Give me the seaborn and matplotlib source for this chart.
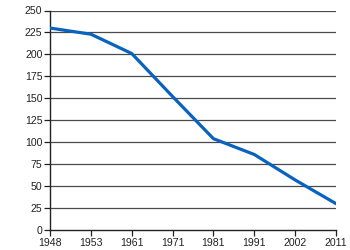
import matplotlib
matplotlib.use("Agg")
import matplotlib.pyplot as plt
import seaborn as sns
import pandas as pd

years = ["1948", "1953", "1961", "1971", "1981", "1991", "2002", "2011"]
values = [230, 223, 201, 152, 104, 86, 57, 30]
y_ticks = [0, 25, 50, 75, 100, 125, 150, 175, 200, 225, 250]

sns.set_style("white")
plt.rcParams['font.family'] = ['Liberation Sans', 'DejaVu Sans']

df = pd.DataFrame({"year": years, "value": values})

fig = plt.figure(figsize=(3.5, 2.5), dpi=100)
ax = fig.add_axes([0.143, 0.08, 0.817, 0.878])

for t in y_ticks[1:]:
    ax.axhline(t, color="#4a4a4a", lw=0.9, zorder=1)

sns.lineplot(data=df, x="year", y="value", ax=ax, color="#0862c0", lw=2.3,
             solid_joinstyle="round", solid_capstyle="round", zorder=3)

ax.set_xlim(0, len(years) - 1)
ax.set_ylim(0, 250)
ax.set_yticks(y_ticks)
ax.set_xlabel("")
ax.set_ylabel("")
for s in ["top", "right"]:
    ax.spines[s].set_visible(False)
for s in ["left", "bottom"]:
    ax.spines[s].set_color("#222222")
    ax.spines[s].set_linewidth(1.0)
ax.tick_params(axis="both", direction="out", length=4, width=0.9, color="#222222",
               labelsize=7.6, pad=1.5, labelcolor="#222222")
ax.tick_params(axis="both", which="both", bottom=True, left=True)

fig.savefig("out.png", dpi=100)
